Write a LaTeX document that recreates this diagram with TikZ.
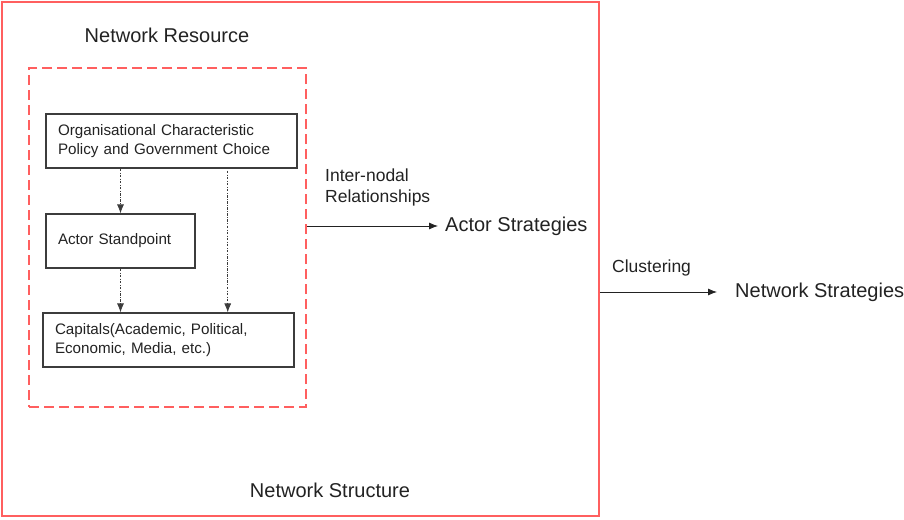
\documentclass[tikz,border=0pt]{standalone}
\usepackage{fontspec}
\setmainfont{Liberation Sans}
\usetikzlibrary{arrows.meta,calc}
\definecolor{netred}{RGB}{255,95,95}
\definecolor{ink}{RGB}{34,34,34}
\definecolor{boxline}{RGB}{60,60,60}
\begin{document}
\begin{tikzpicture}[x=1pt,y=-1pt,
  every node/.style={text=ink},
  boxnode/.style={draw=boxline,line width=1.2pt,minimum height=54pt,inner xsep=12pt,
    align=left,font=\fontsize{15.2}{18.5}\selectfont},
  arr/.style={-{Latex[length=9pt,width=7pt]},draw=ink,line width=0.8pt},
  linkarr/.style={-{Latex[length=9pt,width=7pt]},draw=boxline,line width=0.8pt,
    dash pattern=on 2.5pt off 1.5pt on 0.6pt off 1.5pt},
  bigtext/.style={font=\fontsize{20}{24}\selectfont},
  midtext/.style={font=\fontsize{17.5}{20.5}\selectfont,align=left}]
\useasboundingbox (0,0) rectangle (904,519);

% outer structure frame and the dashed resource frame
\node[draw=netred,line width=1.6pt,minimum width=597pt,minimum height=514pt,inner sep=0] (outer) at (300.5,259) {};
\node[draw=netred,line width=1.4pt,dash pattern=on 10pt off 5pt,minimum width=277pt,minimum height=339pt,inner sep=0] (res) at (167.5,237.5) {};

% boxes inside the resource frame
\node[boxnode,minimum width=251pt,text width=227pt] (box1) at (171.5,141) {Organisational Characteristic\\Policy and Government Choice};
\node[boxnode,minimum width=149pt,text width=125pt] (box2) at (120.5,241) {Actor Standpoint};
\node[boxnode,minimum width=251pt,text width=227pt,font=\fontsize{15.2}{19.5}\selectfont] (box3) at (168.5,340) {Capitals(Academic, Political,\\Economic, Media, etc.)};

% titles
\node[bigtext,anchor=base] (restitle) at (167,42) {Network Resource};
\node[bigtext,anchor=base] (structitle) at (330,497) {Network Structure};

% strategies
\node[bigtext,anchor=west,inner xsep=7pt,inner ysep=0pt] (actor) at (438,226) {Actor Strategies};
\node[bigtext,anchor=west,inner xsep=18pt,inner ysep=0pt] (net) at (717,292) {Network Strategies};

% connector labels
\node[midtext,anchor=north west,inner sep=0pt] (rel) at (325,169) {Inter-nodal\\Relationships};
\node[midtext,anchor=base west,inner sep=0pt] (clus) at (612,272) {Clustering};

% dash-dotted links between boxes
\coordinate (split) at ($(box1.south west)!0.723!(box1.south east)+(0,2)$);
\draw[linkarr] (box2.north |- box1.south) -- (box2.north);
\draw[linkarr] (split) -- (split |- box3.north);
\draw[linkarr] (box2.south) -- (box2.south |- box3.north);

% strategy arrows
\draw[arr] (res.east |- actor.west) -- (actor.west);
\draw[arr] (outer.east |- net.west) -- (net.west);
\end{tikzpicture}
\end{document}
